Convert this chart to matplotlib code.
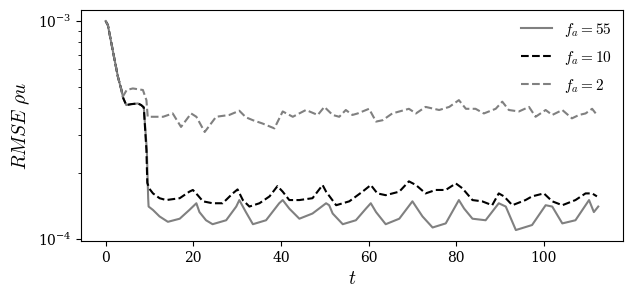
import numpy as np
import matplotlib
matplotlib.use("Agg")
import matplotlib.pyplot as plt

plt.rcParams['font.family'] = 'serif'
plt.rcParams['font.serif'] = ['DejaVu Serif']
plt.rcParams['mathtext.fontset'] = 'cm'

# shared start of all three runs (values in units of 1e-4)
t_start = [0.0, 0.5, 1.3, 2.05, 2.8, 3.6]
v_start = [10.0, 9.6, 7.93, 6.62, 5.55, 4.83]

# f_a = 55 (grey solid)
t_55 = [4.0, 4.7, 5.85, 7.36, 8.1, 8.7, 9.4, 9.7, 9.8, 10.8, 12.3, 14.2, 16.9, 19.1,
        20.7, 21.4, 22.9, 24.4, 27.5, 29.8, 30.5, 32.0, 33.6, 36.6, 39.6, 40.4,
        41.9, 44.2, 47.2, 50.3, 51.0, 51.8, 54.1, 57.1, 59.4, 60.5, 61.7, 63.9,
        67.0, 70.0, 71.1, 72.3, 74.6, 77.6, 80.6, 81.8, 83.7, 86.7, 89.7, 91.3,
        93.6, 97.3, 100.4, 101.9, 104.2, 107.2, 110.3, 111.4, 112.4]
v_55 = [4.44, 4.12, 4.16, 4.19, 4.12, 4.02, 2.56, 1.54, 1.41, 1.36, 1.27, 1.20, 1.24, 1.36,
        1.46, 1.33, 1.22, 1.17, 1.22, 1.41, 1.51, 1.33, 1.17, 1.22, 1.46, 1.51,
        1.38, 1.24, 1.31, 1.46, 1.43, 1.31, 1.17, 1.22, 1.38, 1.46, 1.33, 1.17,
        1.24, 1.49, 1.38, 1.27, 1.13, 1.18, 1.51, 1.38, 1.24, 1.22, 1.46, 1.41,
        1.10, 1.16, 1.43, 1.41, 1.18, 1.22, 1.51, 1.33, 1.41]

# f_a = 10 (black dashed)
t_10 = [4.0, 4.7, 5.85, 7.36, 8.1, 8.7, 9.3, 9.5, 10.0, 10.8, 12.3, 13.8, 16.9, 19.1,
        19.9, 21.0, 22.2, 24.4, 26.7, 29.0, 30.1, 31.3, 32.8, 35.1, 37.4, 39.2,
        40.4, 41.9, 44.2, 47.2, 49.5, 50.3, 52.6, 55.6, 58.6, 60.5, 62.0, 63.9,
        67.0, 69.2, 70.8, 73.0, 75.3, 77.6, 79.9, 81.4, 83.7, 85.9, 88.2, 89.7,
        90.9, 92.8, 95.8, 97.3, 100.0, 101.9, 104.2, 107.2, 109.5, 111.0, 112.1]
v_10 = [4.44, 4.12, 4.16, 4.19, 4.12, 4.02, 2.56, 1.81, 1.70, 1.62, 1.54, 1.51, 1.54, 1.65,
        1.68, 1.59, 1.49, 1.46, 1.46, 1.62, 1.69, 1.51, 1.41, 1.46, 1.57, 1.75,
        1.65, 1.51, 1.51, 1.54, 1.77, 1.65, 1.43, 1.49, 1.65, 1.77, 1.62, 1.59,
        1.65, 1.84, 1.77, 1.62, 1.68, 1.68, 1.80, 1.71, 1.51, 1.49, 1.43, 1.62,
        1.57, 1.43, 1.51, 1.57, 1.62, 1.49, 1.43, 1.51, 1.62, 1.62, 1.57]

# f_a = 2 (grey dashed)
t_2 = [3.9, 4.8, 6.2, 8.5, 9.3, 9.6, 10.8, 13.1, 15.3, 17.2, 19.5, 20.7, 22.6, 25.2,
       28.2, 30.5, 32.0, 33.6, 35.8, 38.5, 40.4, 42.7, 45.7, 48.4, 49.9, 51.8,
       53.3, 54.8, 56.3, 57.5, 60.1, 61.7, 63.2, 65.4, 69.2, 70.8, 73.0, 76.1,
       78.4, 80.6, 82.2, 84.4, 86.3, 89.0, 90.5, 92.0, 94.3, 96.6, 98.1, 100.4,
       101.9, 104.2, 106.4, 108.0, 109.5, 111.0, 112.1]
v_2 = [4.50, 4.83, 4.91, 4.83, 4.34, 3.64, 3.64, 3.64, 3.77, 3.27, 3.77, 3.64, 3.10, 3.64,
       3.71, 3.88, 3.62, 3.51, 3.39, 3.22, 3.85, 3.64, 3.91, 3.71, 4.04, 3.71,
       3.64, 3.91, 3.71, 3.77, 3.96, 3.46, 3.51, 3.77, 3.96, 3.77, 4.04, 3.91,
       4.04, 4.34, 3.96, 3.96, 3.77, 3.96, 4.27, 3.91, 3.85, 4.04, 3.64, 3.91,
       3.71, 3.91, 3.58, 3.71, 3.77, 3.96, 3.71]

labels = [r'$f_a = 55$', r'$f_a = 10$', r'$f_a = 2$']

fig = plt.figure(figsize=(6.33, 2.98), dpi=100)
ax = fig.add_axes([0.128, 0.191, 0.856, 0.775])

ax.plot(t_start + t_55, np.array(v_start + v_55) * 1e-4, color='grey', ls='-', lw=1.5, label=labels[0])
ax.plot(t_start + t_10, np.array(v_start + v_10) * 1e-4, color='black', ls='--', lw=1.5, label=labels[1])
ax.plot(t_start + t_2, np.array(v_start + v_2) * 1e-4, color='grey', ls='--', lw=1.5, label=labels[2])

ax.set_yscale('log')
ax.set_ylim(9.79e-5, 1.123e-3)
ax.set_xlabel(r'$t$', fontsize=14)
ax.set_ylabel(r'$RMSE\ \rho u$', fontsize=14)
ax.legend(frameon=False, loc='upper right', fontsize=11, labelspacing=0.65,
          borderaxespad=0.3)

fig.savefig('out.png', dpi=100)
